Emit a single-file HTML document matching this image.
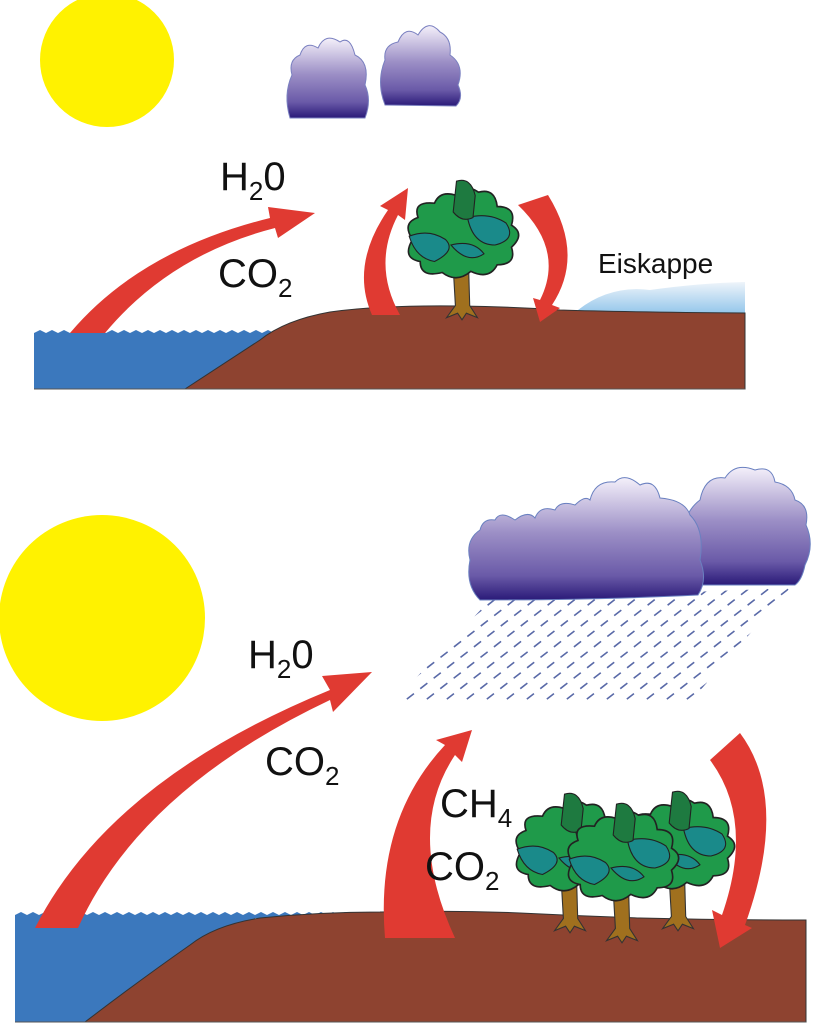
<!DOCTYPE html>
<html><head><meta charset="utf-8"><style>
html,body{margin:0;padding:0;background:#fff;width:824px;height:1024px;overflow:hidden}
svg{display:block}
text{font-family:"Liberation Sans",Arial,sans-serif;fill:#111}
</style></head><body>
<svg width="824" height="1024" viewBox="0 0 824 1024" xmlns="http://www.w3.org/2000/svg">
<defs>
<linearGradient id="cl" x1="0" y1="0" x2="0" y2="1">
<stop offset="0" stop-color="#f4f0fa"/><stop offset="0.45" stop-color="#9c8fc6"/><stop offset="0.8" stop-color="#6a5aa8"/><stop offset="1" stop-color="#2a1a78"/></linearGradient>
<linearGradient id="ice" x1="0" y1="0" x2="0" y2="1">
<stop offset="0" stop-color="#eef4fa"/><stop offset="1" stop-color="#8fc4ea"/></linearGradient>
<clipPath id="rainclip"><polygon points="395,700 490,600 790,588 690,702"/></clipPath>
<g id="tree">
<path d="M-8,20 L-6,55 L-14,66 L-4,62 L0,68 L4,62 L14,66 L7,55 L6,20 Z" fill="#a0701e" stroke="#333" stroke-width="1"/>
<path d="M-45,-5 Q-55,-20 -40,-25 Q-45,-40 -25,-38 Q-20,-50 -5,-45 Q0,-58 15,-48 Q30,-52 32,-35 Q50,-35 45,-18 Q58,-10 45,2 Q50,18 32,18 Q25,32 8,24 Q-5,35 -18,25 Q-38,30 -38,15 Q-55,12 -45,-5Z" fill="#1f9a4a" stroke="#222" stroke-width="1.5"/>
<path d="M-48,-8 Q-30,-15 -15,-5 Q-5,5 -25,15 Q-42,12 -48,-8Z M5,-25 Q25,-30 40,-20 Q50,-5 30,0 Q10,0 5,-25Z M-10,0 Q10,-5 20,8 Q5,18 -10,0Z" fill="#1a8a8a" stroke="#222" stroke-width="1"/>
<path d="M-5,-58 Q8,-62 12,-45 L10,-25 Q0,-20 -8,-30 Z" fill="#1e7a40" stroke="#222" stroke-width="1"/>
</g>
</defs>

<!-- TOP PANEL -->
<circle cx="107" cy="60" r="67" fill="#fff200"/>
<path d="M290,118 Q283,95 292,75 Q288,60 300,55 Q305,40 318,48 Q325,32 340,42 Q350,35 355,55 Q370,62 365,85 Q372,100 365,118 Z" fill="url(#cl)" stroke="#7a80c0" stroke-width="1"/>
<path d="M385,105 Q376,82 385,60 Q383,45 398,42 Q405,25 418,35 Q428,18 440,32 Q452,38 450,55 Q465,65 458,85 Q464,98 456,106 Z" fill="url(#cl)" stroke="#7a80c0" stroke-width="1"/>

<rect x="34" y="333" width="250" height="56" fill="#3b78bd"/>
<path d="M34,333 l6,-3 l6,3 l6,-3 l6,3 l6,-3 l6,3 l6,-3 l6,3 l6,-3 l6,3 l6,-3 l6,3 l6,-3 l6,3 l6,-3 l6,3 l6,-3 l6,3 l6,-3 l6,3 l6,-3 l6,3 l6,-3 l6,3 l6,-3 l6,3 l6,-3 l6,3 l6,-3 l6,3 l6,-3 l6,3 l6,-3 l6,3 l6,-3 l6,3 l6,-3 l6,3 l6,-3 l6,3 L274,336 L34,336Z" fill="#3b78bd"/>
<path d="M578,310 Q610,285 650,290 Q700,283 745,282 L745,315 L578,315Z" fill="url(#ice)"/>
<path d="M185,389 L260,340 Q285,320 330,312 Q380,305 460,306 Q520,307 560,310 Q620,312 745,313 L745,389 Z" fill="#8e4330" stroke="#333" stroke-width="1"/>
<line x1="34" y1="389" x2="745" y2="389" stroke="#555" stroke-width="1"/>

<!-- top arrows -->
<path d="M70,333 Q140,250 270,218 L268,207 L315,213 L278,238 L275,228 Q170,255 105,333 Z" fill="#e03a32"/>
<path d="M372,315 Q350,265 388,210 L380,206 L408,188 L405,220 L398,215 Q372,265 400,315 Z" fill="#e03a32"/>
<path d="M518,205 L548,195 Q585,255 552,305 L560,308 L540,322 L533,298 L540,300 Q565,250 518,205Z" fill="#e03a32"/>
<use href="#tree" transform="translate(462,245) scale(1.1)"/>

<text x="220" y="190" font-size="40">H<tspan font-size="26" dy="10">2</tspan><tspan dy="-10">0</tspan></text>
<text x="218" y="287" font-size="40">CO<tspan font-size="26" dy="10">2</tspan></text>
<text x="598" y="273" font-size="28">Eiskappe</text>

<!-- BOTTOM PANEL -->
<circle cx="102" cy="618" r="103" fill="#fff200"/>
<g clip-path="url(#rainclip)" stroke="#5a6aa8" stroke-width="1.6" stroke-dasharray="9,8">
<line x1="380" y1="720" x2="560" y2="580"/><line x1="400" y1="720" x2="580" y2="580"/><line x1="420" y1="720" x2="600" y2="580"/><line x1="440" y1="720" x2="620" y2="580"/><line x1="460" y1="720" x2="640" y2="580"/><line x1="480" y1="720" x2="660" y2="580"/><line x1="500" y1="720" x2="680" y2="580"/><line x1="520" y1="720" x2="700" y2="580"/><line x1="540" y1="720" x2="720" y2="580"/><line x1="560" y1="720" x2="740" y2="580"/><line x1="580" y1="720" x2="760" y2="580"/><line x1="600" y1="720" x2="780" y2="580"/><line x1="620" y1="720" x2="800" y2="580"/><line x1="640" y1="720" x2="820" y2="580"/><line x1="660" y1="720" x2="840" y2="580"/><line x1="680" y1="720" x2="860" y2="580"/><line x1="300" y1="720" x2="480" y2="580"/><line x1="320" y1="720" x2="500" y2="580"/><line x1="340" y1="720" x2="520" y2="580"/><line x1="360" y1="720" x2="540" y2="580"/>
</g>
<path d="M672,585 Q668,560 685,545 Q680,515 700,500 Q705,475 725,478 Q735,462 755,470 Q772,465 775,482 Q792,485 795,500 Q810,505 806,525 Q815,545 805,565 Q802,580 795,585 Z" fill="url(#cl)" stroke="#6a80c0" stroke-width="1"/>
<path d="M480,600 Q465,585 470,560 Q465,540 480,530 Q483,518 495,520 Q500,510 515,520 Q528,510 535,518 Q540,505 555,510 Q560,500 575,505 Q585,495 590,500 Q595,480 615,482 Q625,472 640,485 Q655,478 660,498 Q685,500 690,515 Q705,530 700,560 Q708,580 698,595 Q600,600 480,600Z" fill="url(#cl)" stroke="#6a80c0" stroke-width="1"/>

<rect x="15" y="915" width="240" height="107" fill="#3b78bd"/>
<path d="M15,915 l6,-3 l6,3 l6,-3 l6,3 l6,-3 l6,3 l6,-3 l6,3 l6,-3 l6,3 l6,-3 l6,3 l6,-3 l6,3 l6,-3 l6,3 l6,-3 l6,3 l6,-3 l6,3 l6,-3 l6,3 l6,-3 l6,3 l6,-3 l6,3 l6,-3 l6,3 l6,-3 l6,3 l6,-3 l6,3 l6,-3 l6,3 l6,-3 l6,3 l6,-3 l6,3 l6,-3 l6,3 l6,-3 l6,3 l6,-3 l6,3 l6,-3 l6,3 l6,-3 l6,3 l6,-3 l6,3 l6,-3 l6,3 l6,-3 l6,3 l6,-3 l6,3 l6,-3 l6,3 l6,-3 l6,3 l6,-3 l6,3 l6,-3 l6,3 L375,918 L15,918Z" fill="#3b78bd"/>
<path d="M85,1022 Q140,980 190,945 Q215,925 260,918 Q320,912 380,912 Q450,910 520,913 Q580,916 640,918 Q720,920 806,920 L806,1022 Z" fill="#8e4330" stroke="#333" stroke-width="1"/>
<line x1="15" y1="1022" x2="806" y2="1022" stroke="#555" stroke-width="1"/>

<!-- bottom arrows -->
<path d="M35,928 Q110,780 330,690 L322,676 L372,672 L333,712 L330,700 Q140,790 78,928 Z" fill="#e03a32"/>
<path d="M385,938 Q375,820 445,745 L436,740 L472,730 L462,762 L455,755 Q405,830 455,938 Z" fill="#e03a32"/>
<path d="M710,760 L740,733 Q790,800 745,925 L752,928 L720,948 L712,910 L722,915 Q755,820 710,760Z" fill="#e03a32"/>

<use href="#tree" transform="translate(570,858) scale(1.1)"/>
<use href="#tree" transform="translate(678,856) scale(1.1)"/>
<use href="#tree" transform="translate(622,868) scale(1.1)"/>

<text x="248" y="668" font-size="40">H<tspan font-size="26" dy="10">2</tspan><tspan dy="-10">0</tspan></text>
<text x="265" y="775" font-size="40">CO<tspan font-size="26" dy="10">2</tspan></text>
<text x="440" y="817" font-size="40">CH<tspan font-size="26" dy="10">4</tspan></text>
<text x="425" y="880" font-size="40">CO<tspan font-size="26" dy="10">2</tspan></text>
</svg>
</body></html>
